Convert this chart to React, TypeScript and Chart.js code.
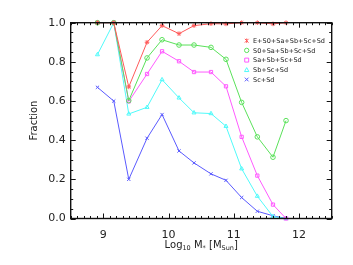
import React, { useEffect, useRef } from 'react';
import { Chart, registerables } from 'chart.js';

Chart.register(...registerables);

// ---- data ----
const massBins = [8.91, 9.16, 9.39, 9.67, 9.9, 10.16, 10.39, 10.65, 10.88, 11.12, 11.36, 11.6, 11.8];
const fracAll = [1.0, 1.0, 0.672, 0.9, 0.985, 0.944, 0.985, 0.995, 0.994, 1.0, 1.0, 0.994, 1.0];
const fracS0 = [1.0, 1.0, 0.602, 0.82, 0.913, 0.886, 0.886, 0.874, 0.813, 0.593, 0.417, 0.313, 0.5];
const fracSa = [1.0, 1.0, 0.598, 0.738, 0.854, 0.803, 0.748, 0.748, 0.675, 0.417, 0.219, 0.071, 0.0];
const fracSb = [0.837, 1.0, 0.534, 0.568, 0.709, 0.616, 0.54, 0.536, 0.471, 0.254, 0.114, 0.01, 0.0];
const fracSc = [0.67, 0.6, 0.2, 0.41, 0.531, 0.345, 0.284, 0.228, 0.195, 0.107, 0.037, 0.014, 0.0];

const seriesLabels = ['E+S0+Sa+Sb+Sc+Sd', 'S0+Sa+Sb+Sc+Sd', 'Sa+Sb+Sc+Sd', 'Sb+Sc+Sd', 'Sc+Sd'];
const seriesValues = [fracAll, fracS0, fracSa, fracSb, fracSc];
const seriesColors = ['rgb(255,90,90)', 'rgb(90,225,90)', 'rgb(255,90,255)', 'rgb(80,250,250)', 'rgb(90,90,255)'];
const seriesMarkers = ['star', 'circle', 'rect', 'triangle', 'crossRot'];

const xTickValues = [9, 10, 11, 12];
const yTickValues = [0, 0.2, 0.4, 0.6, 0.8, 1.0];
const xRange = [8.5, 12.5];
const yRange = [0, 1];

const FONT = '"DejaVu Sans", "Liberation Sans", sans-serif';

function drawMarker(ctx: CanvasRenderingContext2D, style: string, x: number, y: number, r: number, color: string) {
  ctx.save();
  ctx.strokeStyle = color;
  ctx.lineWidth = 1;
  ctx.beginPath();
  if (style === 'circle') {
    ctx.arc(x, y, r, 0, Math.PI * 2);
  } else if (style === 'rect') {
    const s = r * 0.9;
    ctx.rect(x - s, y - s, 2 * s, 2 * s);
  } else if (style === 'triangle') {
    ctx.moveTo(x, y - r);
    ctx.lineTo(x + r, y + r * 0.8);
    ctx.lineTo(x - r, y + r * 0.8);
    ctx.closePath();
  } else if (style === 'crossRot') {
    const s = r * 0.85;
    ctx.moveTo(x - s, y - s); ctx.lineTo(x + s, y + s);
    ctx.moveTo(x + s, y - s); ctx.lineTo(x - s, y + s);
  } else {
    const s = r * 0.85;
    ctx.moveTo(x - s, y - s); ctx.lineTo(x + s, y + s);
    ctx.moveTo(x + s, y - s); ctx.lineTo(x - s, y + s);
    ctx.moveTo(x, y - r); ctx.lineTo(x, y + r);
  }
  ctx.stroke();
  ctx.restore();
}

const framePlugin = {
  id: 'idlFrame',
  afterDraw(chart: any) {
    const { ctx, chartArea } = chart;
    const { left, right, top, bottom } = chartArea;
    const xs = chart.scales.x;
    const ys = chart.scales.y;
    ctx.save();
    ctx.strokeStyle = '#111';
    ctx.lineWidth = 1.4;
    ctx.strokeRect(left, top, right - left, bottom - top);
    ctx.lineWidth = 1;
    ctx.beginPath();
    for (let i = 0; i <= 40; i++) {
      const v = xRange[0] + i * 0.1;
      const px = Math.round(xs.getPixelForValue(v)) + 0.5;
      const major = Math.abs(v - Math.round(v)) < 1e-6;
      const len = major ? 5 : 2.5;
      ctx.moveTo(px, bottom); ctx.lineTo(px, bottom - len);
      ctx.moveTo(px, top); ctx.lineTo(px, top + len);
    }
    for (let i = 0; i <= 20; i++) {
      const v = yRange[0] + i * 0.05;
      const py = Math.round(ys.getPixelForValue(v)) + 0.5;
      const major = i % 4 === 0;
      const len = major ? 5 : 2.5;
      ctx.moveTo(left, py); ctx.lineTo(left + len, py);
      ctx.moveTo(right, py); ctx.lineTo(right - len, py);
    }
    ctx.stroke();

    ctx.fillStyle = '#222';
    ctx.font = '10px ' + FONT;
    ctx.textAlign = 'center';
    ctx.textBaseline = 'middle';
    ctx.save();
    ctx.translate(34, (top + bottom) / 2);
    ctx.rotate(-Math.PI / 2);
    ctx.fillText('Fraction', 0, 0);
    ctx.restore();

    const parts: [string, boolean][] = [['Log', false], ['10', true], [' M', false], ['*', true], [' [M', false], ['Sun', true], [']', false]];
    const big = '10px ' + FONT;
    const small = '6.5px ' + FONT;
    let total = 0;
    for (const [t, sub] of parts) { ctx.font = sub ? small : big; total += ctx.measureText(t).width; }
    let cx = (left + right) / 2 - total / 2;
    const base = 247.5;
    ctx.textAlign = 'left';
    ctx.textBaseline = 'alphabetic';
    for (const [t, sub] of parts) {
      ctx.font = sub ? small : big;
      ctx.fillText(t, cx, sub ? base + 2.5 : base);
      cx += ctx.measureText(t).width;
    }

    chart.data.datasets.forEach((ds: any, i: number) => {
      const y = 40.7 + i * 9.7;
      drawMarker(ctx, ds.pointStyle, 246.7, y, 2.2, ds.borderColor);
      ctx.fillStyle = '#222';
      ctx.font = '6.5px ' + FONT;
      ctx.textBaseline = 'middle';
      ctx.fillText(ds.label, 253, y + 0.5);
    });
    ctx.restore();
  },
};

export default function App() {
  const ref = useRef<HTMLCanvasElement | null>(null);
  useEffect(() => {
    if (!ref.current) return;
    const datasets = seriesValues.map((vals, i) => ({
      label: seriesLabels[i],
      data: vals.map((v, j) => ({ x: massBins[j], y: v })),
      borderColor: seriesColors[i],
      backgroundColor: 'rgba(0,0,0,0)',
      pointStyle: seriesMarkers[i] as any,
      pointRadius: 2.3,
      pointBorderWidth: 1,
      borderWidth: 1,
      showLine: true,
      tension: 0,
      clip: 4,
    }));
    const chart = new Chart(ref.current, {
      type: 'scatter',
      data: { datasets },
      options: {
        animation: false,
        responsive: false,
        events: [],
        layout: { padding: { top: 22.7, right: 21.3, left: 0, bottom: 0 } },
        plugins: { legend: { display: false }, tooltip: { enabled: false } },
        scales: {
          x: {
            type: 'linear',
            min: xRange[0],
            max: xRange[1],
            afterBuildTicks: (s: any) => { s.ticks = xTickValues.map((v) => ({ value: v })); },
            afterFit: (s: any) => { s.height = 46.5; },
            grid: { display: false, drawTicks: false },
            border: { display: false },
            ticks: { padding: 10, color: '#222', font: { family: FONT, size: 11 }, callback: (v: any) => String(v), maxRotation: 0 },
          },
          y: {
            type: 'linear',
            min: yRange[0],
            max: yRange[1],
            afterBuildTicks: (s: any) => { s.ticks = yTickValues.map((v) => ({ value: v })); },
            afterFit: (s: any) => { s.width = 70.7; },
            grid: { display: false, drawTicks: false },
            border: { display: false },
            ticks: { padding: 5, color: '#222', font: { family: FONT, size: 11 }, callback: (v: any) => Number(v).toFixed(1) },
          },
        },
      },
      plugins: [framePlugin],
    });
    return () => chart.destroy();
  }, []);
  return (
    <div style={{ position: 'absolute', left: 0, top: 0, width: 353, height: 265, background: '#fff' }}>
      <canvas ref={ref} width={353} height={265} style={{ width: 353, height: 265, display: 'block' }} />
    </div>
  );
}
